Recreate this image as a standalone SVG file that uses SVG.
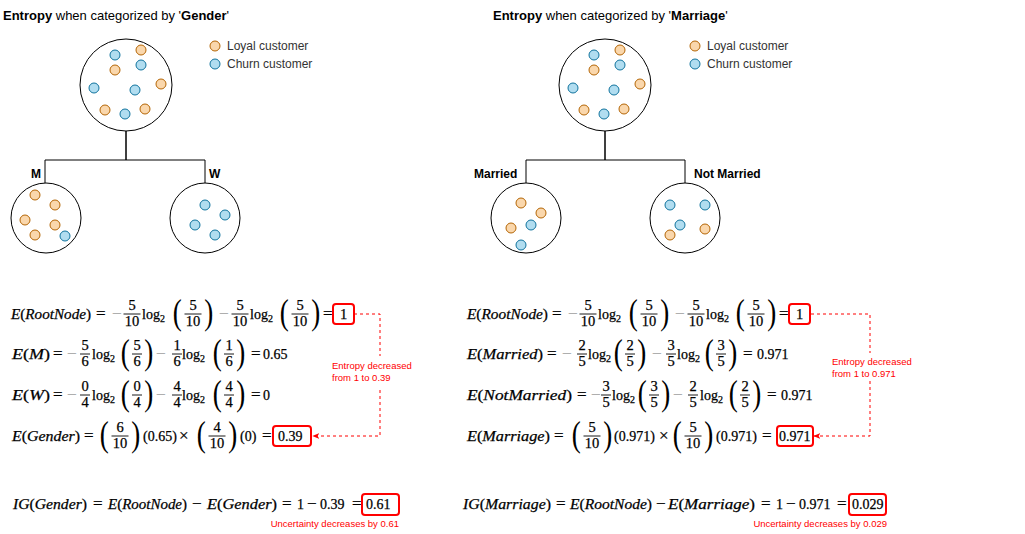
<svg xmlns="http://www.w3.org/2000/svg" width="1025" height="534" viewBox="0 0 1025 534">
<style>
.c{fill:#fff;stroke:#000;stroke-width:1}
.lo{fill:#fad7ac;stroke:#b46504;stroke-width:1}
.ch{fill:#b1ddf0;stroke:#10739e;stroke-width:1}
.edge{fill:none;stroke:#000;stroke-width:1}
.s{font-family:"Liberation Sans",Arial,sans-serif}
.title{font-size:13px;fill:#000}
.leg{font-size:12px;fill:#333}
.lbl{font-size:12px;font-weight:bold;fill:#000}
.m{font-family:"Liberation Serif","Times New Roman",serif;font-size:14px;fill:#000;stroke:#000;stroke-width:0.25}
.mi{font-style:italic}
.lb{font-size:15px}
.op{font-size:17px}
.fr{text-anchor:middle;font-size:14.5px}
.bar{stroke:#000;stroke-width:0.9}
.g{fill:#a8a8a8;stroke:#a8a8a8}
.bp{font-size:35px;stroke:none}
.sb{font-size:10px}
.box{fill:#fff;stroke:#ff0000;stroke-width:2}
.red{font-size:9.5px;fill:#ff0000}
.dash{fill:none;stroke:#ff0000;stroke-width:1;stroke-dasharray:3 3}
</style>
<defs>
<marker id="arr" viewBox="0 0 10 10" refX="9" refY="5" markerWidth="7" markerHeight="7" orient="auto" markerUnits="userSpaceOnUse">
<path d="M0,1 L10,5 L0,9 L2.5,5 Z" fill="#ff0000"/>
</marker>
</defs>
<rect width="1025" height="534" fill="#fff"/>

<!-- Titles -->
<text class="s title" x="3" y="20"><tspan font-weight="bold">Entropy</tspan> when categorized by '<tspan font-weight="bold">Gender</tspan>'</text>
<text class="s title" x="493" y="20"><tspan font-weight="bold">Entropy</tspan> when categorized by '<tspan font-weight="bold">Marriage</tspan>'</text>

<!-- Connectors -->
<g id="connectors">
<path class="edge" d="M126,131 V160 H45 V183"/>
<path class="edge" d="M126,131 V160 H205 V183"/>
<path class="edge" d="M605,131 V160 H526 V183"/>
<path class="edge" d="M605,131 V160 H685 V183"/>
<path class="dash" d="M354,314 H380 V356"/>
<path class="dash" d="M380,390 V436 H313" marker-end="url(#arr)"/>
<path class="dash" d="M811,314 H870 V353"/>
<path class="dash" d="M870,381 V436 H814" marker-end="url(#arr)"/>
</g>

<!-- Left tree -->
<g id="root-gender">
<circle class="c" cx="126" cy="85" r="46"/>
<circle class="ch" cx="115" cy="55" r="5"/>
<circle class="lo" cx="141" cy="50" r="5"/>
<circle class="ch" cx="141" cy="65" r="5"/>
<circle class="lo" cx="115" cy="70" r="5"/>
<circle class="ch" cx="94" cy="88" r="5"/>
<circle class="ch" cx="135" cy="90" r="5"/>
<circle class="lo" cx="161" cy="84" r="5"/>
<circle class="lo" cx="105" cy="110" r="5"/>
<circle class="ch" cx="125" cy="114" r="5"/>
<circle class="lo" cx="145" cy="109" r="5"/>
</g>
<g id="legend-left">
<circle class="lo" cx="215" cy="46" r="5"/>
<text class="s leg" x="227" y="50">Loyal customer</text>
<circle class="ch" cx="215" cy="64" r="5"/>
<text class="s leg" x="227" y="68">Churn customer</text>
</g>
<g id="node-m">
<text class="s lbl" x="31" y="178">M</text>
<circle class="c" cx="46" cy="218" r="35"/>
<circle class="lo" cx="35" cy="195" r="5"/>
<circle class="lo" cx="55" cy="205" r="5"/>
<circle class="lo" cx="25" cy="220" r="5"/>
<circle class="lo" cx="55" cy="225" r="5"/>
<circle class="lo" cx="35" cy="235" r="5"/>
<circle class="ch" cx="65" cy="236" r="5"/>
</g>
<g id="node-w">
<text class="s lbl" x="209" y="178">W</text>
<circle class="c" cx="205" cy="218" r="35"/>
<circle class="ch" cx="205" cy="205" r="5"/>
<circle class="ch" cx="225" cy="215" r="5"/>
<circle class="ch" cx="195" cy="225" r="5"/>
<circle class="ch" cx="215" cy="235" r="5"/>
</g>

<!-- Right tree -->
<g id="root-marriage">
<circle class="c" cx="605" cy="85" r="46"/>
<circle class="ch" cx="594" cy="55" r="5"/>
<circle class="lo" cx="620" cy="50" r="5"/>
<circle class="ch" cx="620" cy="65" r="5"/>
<circle class="lo" cx="594" cy="70" r="5"/>
<circle class="ch" cx="573" cy="88" r="5"/>
<circle class="ch" cx="614" cy="90" r="5"/>
<circle class="lo" cx="640" cy="84" r="5"/>
<circle class="lo" cx="584" cy="110" r="5"/>
<circle class="ch" cx="604" cy="114" r="5"/>
<circle class="lo" cx="624" cy="109" r="5"/>
</g>
<g id="legend-right">
<circle class="lo" cx="695" cy="46" r="5"/>
<text class="s leg" x="707" y="50">Loyal customer</text>
<circle class="ch" cx="695" cy="64" r="5"/>
<text class="s leg" x="707" y="68">Churn customer</text>
</g>
<g id="node-married">
<text class="s lbl" x="474" y="178">Married</text>
<circle class="c" cx="526" cy="218" r="35"/>
<circle class="lo" cx="521" cy="203" r="5"/>
<circle class="lo" cx="541" cy="213" r="5"/>
<circle class="lo" cx="511" cy="228" r="5"/>
<circle class="ch" cx="531" cy="225" r="5"/>
<circle class="ch" cx="521" cy="245" r="5"/>
</g>
<g id="node-notmarried">
<text class="s lbl" x="694" y="178">Not Married</text>
<circle class="c" cx="685" cy="218" r="35"/>
<circle class="ch" cx="670" cy="205" r="5"/>
<circle class="ch" cx="705" cy="205" r="5"/>
<circle class="ch" cx="680" cy="225" r="5"/>
<circle class="lo" cx="670" cy="235" r="5"/>
<circle class="lo" cx="705" cy="229" r="5"/>
</g>

<!-- Left formulas -->
<g id="formula-left-root">
<text class="m lb" x="11" y="319" textLength="80" lengthAdjust="spacingAndGlyphs"><tspan class="mi">E</tspan>(<tspan class="mi">RootNode</tspan>)</text>
<text class="m op" x="96" y="319">=</text>
<text class="m op g" x="112" y="319">−</text>
<text class="m fr" x="132" y="310">5</text><line class="bar" x1="123.5" x2="140.5" y1="314" y2="314"/><text class="m fr" x="132" y="326">10</text>
<text class="m" x="142" y="319">log<tspan class="sb" dy="3">2</tspan></text>
<text class="m bp" x="172.7" y="324" textLength="9" lengthAdjust="spacingAndGlyphs">(</text>
<text class="m fr" x="193" y="310">5</text><line class="bar" x1="184.5" x2="201.5" y1="314" y2="314"/><text class="m fr" x="193" y="326">10</text>
<text class="m bp" x="204.2" y="324" textLength="9" lengthAdjust="spacingAndGlyphs">)</text>
<text class="m op g" x="219" y="319">−</text>
<text class="m fr" x="240" y="310">5</text><line class="bar" x1="231.5" x2="248.5" y1="314" y2="314"/><text class="m fr" x="240" y="326">10</text>
<text class="m" x="250" y="319">log<tspan class="sb" dy="3">2</tspan></text>
<text class="m bp" x="279.7" y="324" textLength="9" lengthAdjust="spacingAndGlyphs">(</text>
<text class="m fr" x="300" y="310">5</text><line class="bar" x1="291.5" x2="308.5" y1="314" y2="314"/><text class="m fr" x="300" y="326">10</text>
<text class="m bp" x="311.2" y="324" textLength="9" lengthAdjust="spacingAndGlyphs">)</text>
<text class="m op" x="323" y="319">=</text>
<rect class="box" x="333" y="304" width="21" height="20" rx="3"/>
<text class="m fr" x="343.5" y="319">1</text>
</g>

<g id="formula-left-m">
<text class="m lb" x="12" y="359" textLength="38" lengthAdjust="spacingAndGlyphs"><tspan class="mi">E</tspan>(<tspan class="mi">M</tspan>)</text>
<text class="m op" x="53" y="359">=</text>
<text class="m op g" x="67" y="359">−</text>
<text class="m fr" x="85" y="350">5</text><line class="bar" x1="80" x2="90" y1="354" y2="354"/><text class="m fr" x="85" y="366">6</text>
<text class="m" x="92" y="359">log<tspan class="sb" dy="3">2</tspan></text>
<text class="m bp" x="120.7" y="364" textLength="9" lengthAdjust="spacingAndGlyphs">(</text>
<text class="m fr" x="137" y="350">5</text><line class="bar" x1="132" x2="142" y1="354" y2="354"/><text class="m fr" x="137" y="366">6</text>
<text class="m bp" x="144.2" y="364" textLength="9" lengthAdjust="spacingAndGlyphs">)</text>
<text class="m op g" x="156" y="359">−</text>
<text class="m fr" x="177" y="350">1</text><line class="bar" x1="172" x2="182" y1="354" y2="354"/><text class="m fr" x="177" y="366">6</text>
<text class="m" x="182" y="359">log<tspan class="sb" dy="3">2</tspan></text>
<text class="m bp" x="212.7" y="364" textLength="9" lengthAdjust="spacingAndGlyphs">(</text>
<text class="m fr" x="229" y="350">1</text><line class="bar" x1="224" x2="234" y1="354" y2="354"/><text class="m fr" x="229" y="366">6</text>
<text class="m bp" x="236.2" y="364" textLength="9" lengthAdjust="spacingAndGlyphs">)</text>
<text class="m op" x="251" y="359">=</text>
<text class="m" x="263" y="359">0.65</text>
</g>

<g id="formula-left-w">
<text class="m lb" x="12" y="400" textLength="38" lengthAdjust="spacingAndGlyphs"><tspan class="mi">E</tspan>(<tspan class="mi">W</tspan>)</text>
<text class="m op" x="53" y="400">=</text>
<text class="m op g" x="67" y="400">−</text>
<text class="m fr" x="85" y="391">0</text><line class="bar" x1="80" x2="90" y1="395" y2="395"/><text class="m fr" x="85" y="407">4</text>
<text class="m" x="92" y="400">log<tspan class="sb" dy="3">2</tspan></text>
<text class="m bp" x="120.7" y="405" textLength="9" lengthAdjust="spacingAndGlyphs">(</text>
<text class="m fr" x="137" y="391">0</text><line class="bar" x1="132" x2="142" y1="395" y2="395"/><text class="m fr" x="137" y="407">4</text>
<text class="m bp" x="144.2" y="405" textLength="9" lengthAdjust="spacingAndGlyphs">)</text>
<text class="m op g" x="156" y="400">−</text>
<text class="m fr" x="177" y="391">4</text><line class="bar" x1="172" x2="182" y1="395" y2="395"/><text class="m fr" x="177" y="407">4</text>
<text class="m" x="182" y="400">log<tspan class="sb" dy="3">2</tspan></text>
<text class="m bp" x="212.7" y="405" textLength="9" lengthAdjust="spacingAndGlyphs">(</text>
<text class="m fr" x="229" y="391">4</text><line class="bar" x1="224" x2="234" y1="395" y2="395"/><text class="m fr" x="229" y="407">4</text>
<text class="m bp" x="236.2" y="405" textLength="9" lengthAdjust="spacingAndGlyphs">)</text>
<text class="m op" x="251" y="400">=</text>
<text class="m" x="263" y="400">0</text>
</g>

<g id="formula-left-gender">
<text class="m lb" x="12" y="441" textLength="68" lengthAdjust="spacingAndGlyphs"><tspan class="mi">E</tspan>(<tspan class="mi">Gender</tspan>)</text>
<text class="m op" x="84" y="441">=</text>
<text class="m bp" x="99.7" y="446" textLength="9" lengthAdjust="spacingAndGlyphs">(</text>
<text class="m fr" x="120" y="432">6</text><line class="bar" x1="111.5" x2="128.5" y1="436" y2="436"/><text class="m fr" x="120" y="448">10</text>
<text class="m bp" x="131.2" y="446" textLength="9" lengthAdjust="spacingAndGlyphs">)</text>
<text class="m" x="143" y="441">(0.65)</text>
<text class="m op" x="179" y="441">×</text>
<text class="m bp" x="196.7" y="446" textLength="9" lengthAdjust="spacingAndGlyphs">(</text>
<text class="m fr" x="217" y="432">4</text><line class="bar" x1="208.5" x2="225.5" y1="436" y2="436"/><text class="m fr" x="217" y="448">10</text>
<text class="m bp" x="228.2" y="446" textLength="9" lengthAdjust="spacingAndGlyphs">)</text>
<text class="m" x="240" y="441">(0)</text>
<text class="m op" x="262" y="441">=</text>
<rect class="box" x="273" y="426" width="38" height="20" rx="3"/>
<text class="m" x="278" y="441">0.39</text>
</g>

<g id="note-left">
<text class="s red" x="332" y="369">Entropy decreased</text>
<text class="s red" x="332" y="381">from 1 to 0.39</text>
</g>

<g id="ig-left">
<text class="m lb" x="13" y="509" textLength="74" lengthAdjust="spacingAndGlyphs"><tspan class="mi">IG</tspan>(<tspan class="mi">Gender</tspan>)</text>
<text class="m op" x="93" y="509">=</text>
<text class="m lb" x="108" y="509" textLength="79" lengthAdjust="spacingAndGlyphs"><tspan class="mi">E</tspan>(<tspan class="mi">RootNode</tspan>)</text>
<text class="m op" x="192" y="509">−</text>
<text class="m lb" x="207" y="509" textLength="70" lengthAdjust="spacingAndGlyphs"><tspan class="mi">E</tspan>(<tspan class="mi">Gender</tspan>)</text>
<text class="m op" x="282" y="509">=</text>
<text class="m" x="297" y="509">1</text>
<text class="m op" x="307" y="509">−</text>
<text class="m" x="320" y="509">0.39</text>
<text class="m op" x="352" y="509">=</text>
<rect class="box" x="362" y="494" width="37" height="21" rx="3"/>
<text class="m" x="366" y="509">0.61</text>
<text class="s red" x="399" y="527" text-anchor="end">Uncertainty decreases by 0.61</text>
</g>

<!-- Right formulas -->
<g id="formula-right-root">
<text class="m lb" x="467" y="319" textLength="81" lengthAdjust="spacingAndGlyphs"><tspan class="mi">E</tspan>(<tspan class="mi">RootNode</tspan>)</text>
<text class="m op" x="552" y="319">=</text>
<text class="m op g" x="568" y="319">−</text>
<text class="m fr" x="588" y="310">5</text><line class="bar" x1="579.5" x2="596.5" y1="314" y2="314"/><text class="m fr" x="588" y="326">10</text>
<text class="m" x="598" y="319">log<tspan class="sb" dy="3">2</tspan></text>
<text class="m bp" x="628.7" y="324" textLength="9" lengthAdjust="spacingAndGlyphs">(</text>
<text class="m fr" x="649" y="310">5</text><line class="bar" x1="640.5" x2="657.5" y1="314" y2="314"/><text class="m fr" x="649" y="326">10</text>
<text class="m bp" x="660.2" y="324" textLength="9" lengthAdjust="spacingAndGlyphs">)</text>
<text class="m op g" x="675" y="319">−</text>
<text class="m fr" x="696" y="310">5</text><line class="bar" x1="687.5" x2="704.5" y1="314" y2="314"/><text class="m fr" x="696" y="326">10</text>
<text class="m" x="706" y="319">log<tspan class="sb" dy="3">2</tspan></text>
<text class="m bp" x="735.7" y="324" textLength="9" lengthAdjust="spacingAndGlyphs">(</text>
<text class="m fr" x="756" y="310">5</text><line class="bar" x1="747.5" x2="764.5" y1="314" y2="314"/><text class="m fr" x="756" y="326">10</text>
<text class="m bp" x="767.2" y="324" textLength="9" lengthAdjust="spacingAndGlyphs">)</text>
<text class="m op" x="779" y="319">=</text>
<rect class="box" x="789" y="304" width="21" height="20" rx="3"/>
<text class="m fr" x="799.5" y="319">1</text>
</g>

<g id="formula-right-married">
<text class="m lb" x="467" y="359" textLength="76" lengthAdjust="spacingAndGlyphs"><tspan class="mi">E</tspan>(<tspan class="mi">Married</tspan>)</text>
<text class="m op" x="547" y="359">=</text>
<text class="m op g" x="562" y="359">−</text>
<text class="m fr" x="582" y="350">2</text><line class="bar" x1="577" x2="587" y1="354" y2="354"/><text class="m fr" x="582" y="366">5</text>
<text class="m" x="588" y="359">log<tspan class="sb" dy="3">2</tspan></text>
<text class="m bp" x="613.7" y="364" textLength="9" lengthAdjust="spacingAndGlyphs">(</text>
<text class="m fr" x="630" y="350">2</text><line class="bar" x1="625" x2="635" y1="354" y2="354"/><text class="m fr" x="630" y="366">5</text>
<text class="m bp" x="637.2" y="364" textLength="9" lengthAdjust="spacingAndGlyphs">)</text>
<text class="m op g" x="652" y="359">−</text>
<text class="m fr" x="671" y="350">3</text><line class="bar" x1="666" x2="676" y1="354" y2="354"/><text class="m fr" x="671" y="366">5</text>
<text class="m" x="677" y="359">log<tspan class="sb" dy="3">2</tspan></text>
<text class="m bp" x="704.7" y="364" textLength="9" lengthAdjust="spacingAndGlyphs">(</text>
<text class="m fr" x="721" y="350">3</text><line class="bar" x1="716" x2="726" y1="354" y2="354"/><text class="m fr" x="721" y="366">5</text>
<text class="m bp" x="728.2" y="364" textLength="9" lengthAdjust="spacingAndGlyphs">)</text>
<text class="m op" x="743" y="359">=</text>
<text class="m" x="757" y="359">0.971</text>
</g>

<g id="formula-right-notmarried">
<text class="m lb" x="467" y="400" textLength="105" lengthAdjust="spacingAndGlyphs"><tspan class="mi">E</tspan>(<tspan class="mi">NotMarried</tspan>)</text>
<text class="m op" x="577" y="400">=</text>
<text class="m op g" x="591" y="400">−</text>
<text class="m fr" x="606" y="391">3</text><line class="bar" x1="601" x2="611" y1="395" y2="395"/><text class="m fr" x="606" y="407">5</text>
<text class="m" x="612" y="400">log<tspan class="sb" dy="3">2</tspan></text>
<text class="m bp" x="637.7" y="405" textLength="9" lengthAdjust="spacingAndGlyphs">(</text>
<text class="m fr" x="654" y="391">3</text><line class="bar" x1="649" x2="659" y1="395" y2="395"/><text class="m fr" x="654" y="407">5</text>
<text class="m bp" x="661.2" y="405" textLength="9" lengthAdjust="spacingAndGlyphs">)</text>
<text class="m op g" x="673" y="400">−</text>
<text class="m fr" x="693" y="391">2</text><line class="bar" x1="688" x2="698" y1="395" y2="395"/><text class="m fr" x="693" y="407">5</text>
<text class="m" x="700" y="400">log<tspan class="sb" dy="3">2</tspan></text>
<text class="m bp" x="728.7" y="405" textLength="9" lengthAdjust="spacingAndGlyphs">(</text>
<text class="m fr" x="745" y="391">2</text><line class="bar" x1="740" x2="750" y1="395" y2="395"/><text class="m fr" x="745" y="407">5</text>
<text class="m bp" x="752.2" y="405" textLength="9" lengthAdjust="spacingAndGlyphs">)</text>
<text class="m op" x="767" y="400">=</text>
<text class="m" x="781" y="400">0.971</text>
</g>

<g id="formula-right-marriage">
<text class="m lb" x="467" y="441" textLength="83" lengthAdjust="spacingAndGlyphs"><tspan class="mi">E</tspan>(<tspan class="mi">Marriage</tspan>)</text>
<text class="m op" x="554" y="441">=</text>
<text class="m bp" x="571.7" y="446" textLength="9" lengthAdjust="spacingAndGlyphs">(</text>
<text class="m fr" x="592" y="432">5</text><line class="bar" x1="583.5" x2="600.5" y1="436" y2="436"/><text class="m fr" x="592" y="448">10</text>
<text class="m bp" x="603.2" y="446" textLength="9" lengthAdjust="spacingAndGlyphs">)</text>
<text class="m" x="614" y="441">(0.971)</text>
<text class="m op" x="659" y="441">×</text>
<text class="m bp" x="672.7" y="446" textLength="9" lengthAdjust="spacingAndGlyphs">(</text>
<text class="m fr" x="693" y="432">5</text><line class="bar" x1="684.5" x2="701.5" y1="436" y2="436"/><text class="m fr" x="693" y="448">10</text>
<text class="m bp" x="704.2" y="446" textLength="9" lengthAdjust="spacingAndGlyphs">)</text>
<text class="m" x="716" y="441">(0.971)</text>
<text class="m op" x="762" y="441">=</text>
<rect class="box" x="777" y="426" width="36" height="20" rx="3"/>
<text class="m" x="779" y="441">0.971</text>
</g>

<g id="note-right">
<text class="s red" x="832" y="365">Entropy decreased</text>
<text class="s red" x="832" y="377">from 1 to 0.971</text>
</g>

<g id="ig-right">
<text class="m lb" x="463" y="509" textLength="88" lengthAdjust="spacingAndGlyphs"><tspan class="mi">IG</tspan>(<tspan class="mi">Marriage</tspan>)</text>
<text class="m op" x="556" y="509">=</text>
<text class="m lb" x="570" y="509" textLength="82" lengthAdjust="spacingAndGlyphs"><tspan class="mi">E</tspan>(<tspan class="mi">RootNode</tspan>)</text>
<text class="m op" x="656" y="509">−</text>
<text class="m lb" x="668" y="509" textLength="87" lengthAdjust="spacingAndGlyphs"><tspan class="mi">E</tspan>(<tspan class="mi">Marriage</tspan>)</text>
<text class="m op" x="761" y="509">=</text>
<text class="m" x="776" y="509">1</text>
<text class="m op" x="786" y="509">−</text>
<text class="m" x="799" y="509">0.971</text>
<text class="m op" x="837" y="509">=</text>
<rect class="box" x="849" y="494" width="37" height="21" rx="3"/>
<text class="m" x="852" y="509">0.029</text>
<text class="s red" x="887" y="527" text-anchor="end">Uncertainty decreases by 0.029</text>
</g>
</svg>
